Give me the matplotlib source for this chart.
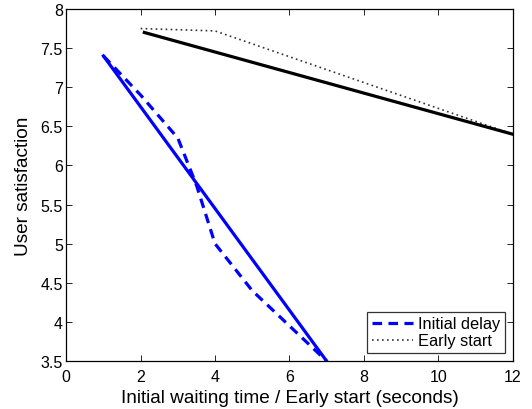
import matplotlib
matplotlib.use("Agg")
import matplotlib.pyplot as plt

plt.rcParams['font.family'] = ['Liberation Sans', 'DejaVu Sans']

# Initial delay (dashed: measured, solid: fit)
delay_x = [1, 2, 3, 3.5, 4, 5, 6, 7]
delay_y = [7.4, 6.9, 6.35, 5.75, 5.0, 4.4, 3.95, 3.5]
delay_fit_x = [1, 7]
delay_fit_y = [7.4, 3.5]

# Early start (dotted: measured, solid: fit)
early_x = [2, 4, 12]
early_y = [7.75, 7.72, 6.4]
early_fit_x = [2.1, 12]
early_fit_y = [7.7, 6.4]

fig = plt.figure(figsize=(5.32, 4.10), dpi=100)
ax = fig.add_axes([0.1245, 0.117, 0.839, 0.8586])

ax.plot(delay_x, delay_y, color='#0000ff', linestyle=(0, (3, 2)), linewidth=2.3, label='Initial delay')
ax.plot(early_x, early_y, color='#333333', linestyle=(0, (1, 2)), linewidth=1.2, label='Early start')
ax.plot(delay_fit_x, delay_fit_y, color='#0000ff', linewidth=2.3)
ax.plot(early_fit_x, early_fit_y, color='black', linewidth=2.3)

ax.set_xlim(0, 12)
ax.set_ylim(3.5, 8)
ax.set_xticks([0, 2, 4, 6, 8, 10, 12])
ax.set_yticks([3.5, 4, 4.5, 5, 5.5, 6, 6.5, 7, 7.5, 8])
ax.set_yticklabels(['3.5', '4', '4.5', '5', '5.5', '6', '6.5', '7', '7.5', '8'])
ax.tick_params(direction='in', top=True, right=True, labelsize=11.5, length=4, width=0.6)
ax.tick_params(axis='x', pad=6)
ax.tick_params(axis='y', pad=2.5)
for s in ax.spines.values():
    s.set_linewidth(0.9)

ax.set_xlabel('Initial waiting time / Early start (seconds)', fontsize=13.7, labelpad=3)
ax.set_ylabel('User satisfaction', fontsize=13.7, labelpad=6)

leg = ax.legend(loc='lower right', fontsize=11.8, frameon=True, fancybox=False,
                edgecolor='black', handlelength=2.5, borderpad=0.3, labelspacing=0.12,
                handletextpad=0.3, borderaxespad=0.47)
leg.get_frame().set_linewidth(0.9)

fig.savefig('out.png', dpi=100)
